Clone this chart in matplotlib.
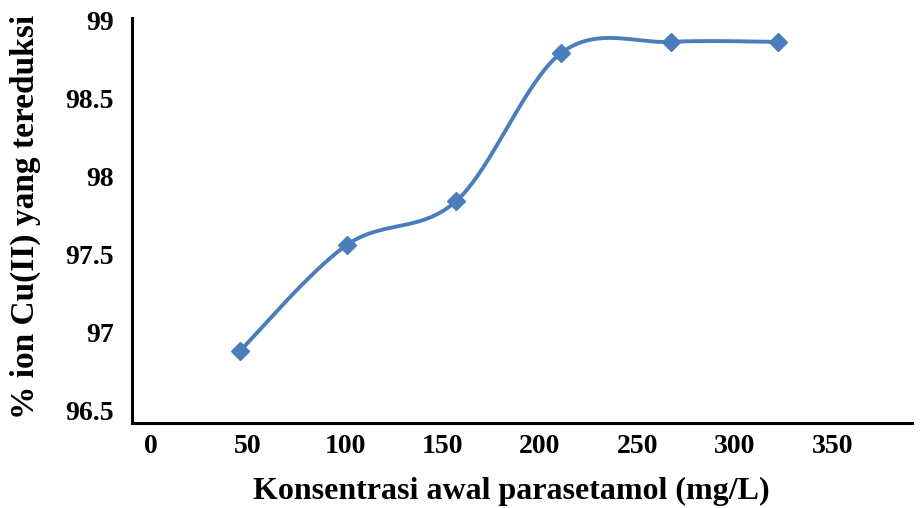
import numpy as np
import matplotlib
matplotlib.use("Agg")
import matplotlib.pyplot as plt

# Data
konsentrasi = [46, 101, 157, 211, 267, 322]
persen_reduksi = [96.88, 97.56, 97.84, 98.79, 98.86, 98.86]
x_ticks = [0, 50, 100, 150, 200, 250, 300, 350]
y_ticks = [96.5, 97, 97.5, 98, 98.5, 99]
y_tick_labels = ["96.5", "97", "97.5", "98", "98.5", "99"]

plt.rcParams['font.family'] = ['Liberation Serif', 'DejaVu Serif']
plt.rcParams['font.weight'] = 'bold'

fig = plt.figure(figsize=(9.24, 5.08), dpi=100)
ax = fig.add_axes([132/924, 1-423/508, (912-132)/924, (423-18)/508])
ax.set_xlim(-9.5, 391)
ax.set_ylim(96.417, 99.013)

color = '#4A7EBB'

# Smooth (Excel-style Catmull-Rom Bezier) computed in display space
pts = ax.transData.transform(np.column_stack([konsentrasi, persen_reduksi]))
n = len(pts)
curve = []
for i in range(n - 1):
    p0 = pts[max(i - 1, 0)]
    p1 = pts[i]
    p2 = pts[i + 1]
    p3 = pts[min(i + 2, n - 1)]
    c1 = p1 + (p2 - p0) / 6.0
    c2 = p2 - (p3 - p1) / 6.0
    t = np.linspace(0, 1, 40)[:, None]
    seg = ((1 - t) ** 3) * p1 + 3 * ((1 - t) ** 2) * t * c1 + 3 * (1 - t) * (t ** 2) * c2 + (t ** 3) * p2
    curve.append(seg if i == 0 else seg[1:])
curve = np.vstack(curve)
curve_data = ax.transData.inverted().transform(curve)
ax.plot(curve_data[:, 0], curve_data[:, 1], color=color, lw=2.8, solid_capstyle='round', zorder=2)
ax.plot(konsentrasi, persen_reduksi, linestyle='none', marker='D', markersize=9,
        color=color, zorder=3)

for s in ['top', 'right']:
    ax.spines[s].set_visible(False)
for s in ['left', 'bottom']:
    ax.spines[s].set_linewidth(2.2)
    ax.spines[s].set_color('black')

ax.set_xticks(x_ticks)
ax.set_xticklabels([str(v) for v in x_ticks], fontsize=20, fontweight='bold')
ax.set_yticks(y_ticks)
ax.set_yticklabels(y_tick_labels, fontsize=20, fontweight='bold')
ax.tick_params(axis='both', length=0)
ax.tick_params(axis='y', pad=13)
ax.tick_params(axis='x', pad=8)

fig.text(511/924, 1-491/508, "Konsentrasi awal parasetamol (mg/L)", ha='center', va='center',
         fontsize=23, fontweight='bold')
fig.text(25/924, 1-217/508, "% ion Cu(II) yang tereduksi", ha='center', va='center',
         rotation=90, fontsize=24, fontweight='bold')

fig.savefig("out.png", dpi=100)
